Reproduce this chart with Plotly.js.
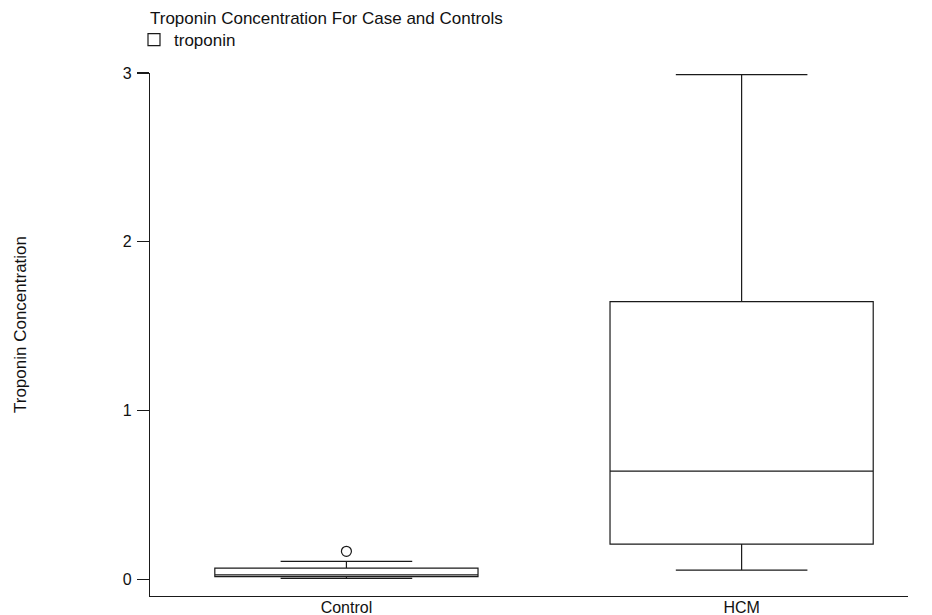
<!DOCTYPE html>
<html>
<head>
<meta charset="utf-8">
<script src="https://cdn.plot.ly/plotly-3.0.1.min.js"></script>
<style>html,body{margin:0;padding:0;background:#fff;}#chart{width:932px;height:615px;}</style>
</head>
<body>
<div id="chart"></div>
<script>
// Data
var groups = ["Control", "HCM"];
var lowerFence = [0.005, 0.053];
var q1Values = [0.015, 0.207];
var medianValues = [0.025, 0.64];
var q3Values = [0.065, 1.645];
var upperFence = [0.105, 2.99];
var outlierGroups = ["Control"];
var outlierValues = [0.165];
var yTickValues = [0, 1, 2, 3];
var yTickLabels = ["0", "1", "2", "3"];

var lineColor = "#1a1a1a";
var fontFam = "Liberation Sans, Arial, sans-serif";

var traces = [
  {
    type: "box",
    name: "troponin",
    x: groups,
    q1: q1Values,
    median: medianValues,
    q3: q3Values,
    lowerfence: lowerFence,
    upperfence: upperFence,
    boxpoints: false,
    whiskerwidth: 0.5,
    fillcolor: "rgba(255,255,255,1)",
    line: {color: lineColor, width: 1.2},
    showlegend: true,
    hoverinfo: "skip"
  },
  {
    type: "scatter",
    mode: "markers",
    x: outlierGroups,
    y: outlierValues,
    marker: {symbol: "circle-open", size: 10, color: lineColor, line: {width: 1.2, color: lineColor}},
    showlegend: false,
    hoverinfo: "skip"
  }
];

var plotTop = 73, plotBottom = 596, plotLeft = 150, plotRight = 908;
var plotW = plotRight - plotLeft, plotH = plotBottom - plotTop;

var layout = {
  width: 932,
  height: 615,
  paper_bgcolor: "#fff",
  plot_bgcolor: "#fff",
  font: {family: fontFam, size: 16, color: "#111"},
  margin: {l: plotLeft, r: 932 - plotRight, t: plotTop, b: 615 - plotBottom, pad: 0, autoexpand: false},
  boxgap: 0.334,
  boxgroupgap: 0,
  title: {
    text: "Troponin Concentration For Case and Controls",
    font: {family: fontFam, size: 17, color: "#111"},
    x: 150 / 932, xref: "container", xanchor: "left",
    y: 1 - 18 / 615, yref: "container", yanchor: "middle"
  },
  showlegend: true,
  legend: {
    x: (134 - plotLeft) / plotW, xref: "paper", xanchor: "left",
    y: 1 + (plotTop - 22) / plotH, yref: "paper", yanchor: "top",
    itemwidth: 30,
    bgcolor: "rgba(0,0,0,0)",
    borderwidth: 0,
    font: {family: fontFam, size: 17, color: "#111"}
  },
  annotations: [{
    text: "Troponin Concentration",
    textangle: -90,
    xref: "paper", yref: "paper",
    x: (20 - plotLeft) / plotW,
    y: (plotBottom - 325) / plotH,
    xanchor: "center", yanchor: "middle",
    showarrow: false,
    font: {family: fontFam, size: 17, color: "#111"}
  }],
  xaxis: {
    type: "category",
    categoryorder: "array",
    categoryarray: groups,
    range: [-0.497, 1.421],
    showline: true,
    linecolor: lineColor,
    linewidth: 1.2,
    ticks: "",
    showgrid: false,
    zeroline: false,
    tickfont: {family: fontFam, size: 16, color: "#111"},
    ticklabelstandoff: -3,
    automargin: false,
    fixedrange: true
  },
  yaxis: {
    range: [-0.1, 3.0],
    tickvals: yTickValues,
    ticktext: yTickLabels,
    showline: true,
    linecolor: lineColor,
    linewidth: 1.2,
    ticks: "outside",
    ticklen: 12,
    tickwidth: 1.2,
    tickcolor: lineColor,
    showgrid: false,
    zeroline: false,
    tickfont: {family: fontFam, size: 16, color: "#111"},
    ticklabelstandoff: 2,
    automargin: false,
    fixedrange: true
  }
};

Plotly.newPlot("chart", traces, layout, {displayModeBar: false, staticPlot: true});
</script>
</body>
</html>
